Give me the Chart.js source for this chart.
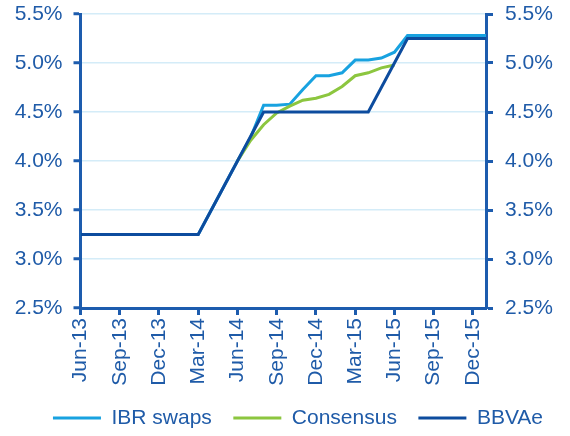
<!DOCTYPE html>
<html>
<head>
<meta charset="utf-8">
<script src="https://cdn.jsdelivr.net/npm/chart.js@4"></script>
<style>
  html, body { margin: 0; padding: 0; background: #fff; }
  #wrap { width: 570px; height: 436px; position: relative; }
</style>
</head>
<body>
<div id="wrap"><canvas id="rateChart"></canvas></div>
<script>
// monthly categories, Jun-13 .. Jan-16
const months = [
  "Jun-13", "Jul-13", "Aug-13", "Sep-13", "Oct-13", "Nov-13", "Dec-13", "Jan-14",
  "Feb-14", "Mar-14", "Apr-14", "May-14", "Jun-14", "Jul-14", "Aug-14", "Sep-14",
  "Oct-14", "Nov-14", "Dec-14", "Jan-15", "Feb-15", "Mar-15", "Apr-15", "May-15",
  "Jun-15", "Jul-15", "Aug-15", "Sep-15", "Oct-15", "Nov-15", "Dec-15", "Jan-16"
];

const ibrSwaps = [
  3.25, 3.25, 3.25, 3.25, 3.25, 3.25, 3.25, 3.25,
  3.25, 3.25, 3.50, 3.75, 4.00, 4.24, 4.57, 4.57,
  4.58, 4.73, 4.87, 4.87, 4.90, 5.03, 5.03, 5.05,
  5.11, 5.28, 5.28, 5.28, 5.28, 5.28, 5.28, 5.28
];

const consensus = [
  null, null, null, null, null, null, null, null,
  null, null, null, null, 4.00, 4.21, 4.37, 4.49,
  4.56, 4.62, 4.64, 4.68, 4.76, 4.87, 4.90, 4.95,
  4.98, null, null, null, null, null, null, null
];

const bbvae = [
  3.25, 3.25, 3.25, 3.25, 3.25, 3.25, 3.25, 3.25,
  3.25, 3.25, 3.50, 3.75, 4.00, 4.25, 4.50, 4.50,
  4.50, 4.50, 4.50, 4.50, 4.50, 4.50, 4.50, 4.75,
  5.00, 5.25, 5.25, 5.25, 5.25, 5.25, 5.25, 5.25
];

const axisBlue = "#1d5cae";
const textBlue = "#1f5ba8";
const gridBlue = "#d4ecf8";
const fontFam = "'Liberation Sans', Arial, sans-serif";

// nudge the legend a bit right, like the original
const legendShift = {
  id: "legendShift",
  afterLayout(chart) {
    if (chart.legend) {
      chart.legend.left += 13;
      chart.legend.right += 13;
    }
  }
};

// fixed widths for the value axes, no extra label padding on top/bottom
function fixY(width) {
  return (scale) => {
    scale.width = width;
    scale.paddingTop = 0;
    scale.paddingBottom = 0;
  };
}

const ctx = document.getElementById("rateChart").getContext("2d");

window.rateChart = new Chart(ctx, {
  type: "line",
  data: {
    labels: months,
    datasets: [
      {
        label: "IBR swaps",
        data: ibrSwaps,
        borderColor: "#18a2e0",
        backgroundColor: "#18a2e0",
        borderWidth: 3,
        pointRadius: 0,
        tension: 0,
        order: 3
      },
      {
        label: "Consensus",
        data: consensus,
        borderColor: "#8cc63f",
        backgroundColor: "#8cc63f",
        borderWidth: 3,
        pointRadius: 0,
        tension: 0,
        order: 2
      },
      {
        label: "BBVAe",
        data: bbvae,
        borderColor: "#0d4c9e",
        backgroundColor: "#0d4c9e",
        borderWidth: 3,
        pointRadius: 0,
        tension: 0,
        order: 1
      }
    ]
  },
  plugins: [legendShift],
  options: {
    responsive: true,
    maintainAspectRatio: false,
    animation: false,
    layout: { padding: { top: 14, left: 0, right: 0, bottom: 0 } },
    font: { family: fontFam, size: 21 },
    plugins: {
      tooltip: { enabled: false },
      legend: {
        position: "bottom",
        maxHeight: 50,
        labels: {
          color: textBlue,
          font: { family: fontFam, size: 21, lineHeight: 1 },
          boxWidth: 48,
          boxHeight: 3,
          padding: 21.5,
          sort: (a, b) => a.datasetIndex - b.datasetIndex,
          generateLabels: (chart) => {
            const items = Chart.defaults.plugins.legend.labels.generateLabels(chart);
            items.forEach(it => { it.lineWidth = 0; });
            return items;
          }
        }
      }
    },
    scales: {
      x: {
        afterFit: (scale) => { scale.height = 78; },
        grid: {
          drawOnChartArea: false,
          tickLength: 7,
          tickWidth: 3,
          tickColor: (c) => (c.index % 3 === 0 ? axisBlue : "rgba(0,0,0,0)")
        },
        border: { color: axisBlue, width: 3 },
        ticks: {
          autoSkip: false,
          maxRotation: 90,
          minRotation: 90,
          padding: 3,
          color: textBlue,
          font: { family: fontFam, size: 21 },
          callback: function (val, i) { return i % 3 === 0 ? this.getLabelForValue(val) : ""; }
        }
      },
      y: {
        position: "left",
        min: 2.5,
        max: 5.5,
        afterFit: fixY(80.5),
        grid: { color: gridBlue, lineWidth: 1.5, tickLength: 7, tickWidth: 3, tickColor: axisBlue },
        border: { color: axisBlue, width: 3 },
        ticks: {
          stepSize: 0.5,
          padding: 11,
          color: textBlue,
          font: { family: fontFam, size: 21 },
          callback: (v) => v.toFixed(1) + "%"
        }
      },
      y2: {
        position: "right",
        min: 2.5,
        max: 5.5,
        afterFit: fixY(84),
        grid: { drawOnChartArea: false, tickLength: 7, tickWidth: 3, tickColor: axisBlue },
        border: { color: axisBlue, width: 3 },
        ticks: {
          stepSize: 0.5,
          padding: 12,
          color: textBlue,
          font: { family: fontFam, size: 21 },
          callback: (v) => v.toFixed(1) + "%"
        }
      }
    }
  }
});
</script>
</body>
</html>
